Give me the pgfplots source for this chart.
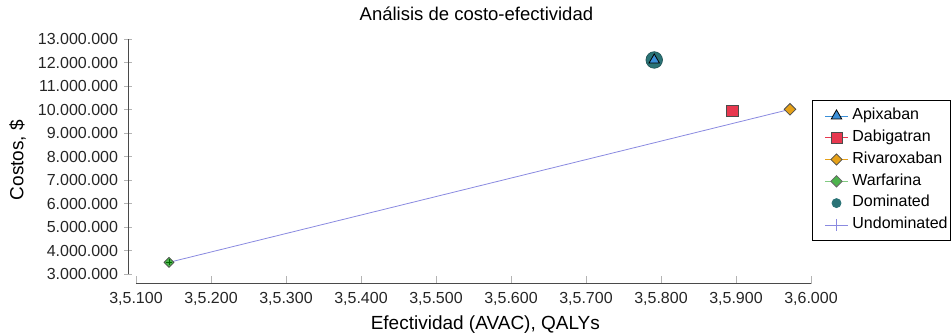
\documentclass[border=0pt]{standalone}
\usepackage{pgfplots}
\pgfplotsset{compat=1.18}
\usepackage{fontspec}
\setmainfont{Liberation Sans}

\definecolor{apixblue}{HTML}{3A8FD8}
\definecolor{dabired}{HTML}{E8384F}
\definecolor{rivaorange}{HTML}{E6A118}
\definecolor{warfgreen}{HTML}{4DB34D}
\definecolor{domteal}{HTML}{2A7376}
\definecolor{undompurple}{HTML}{8A8AE0}
\definecolor{axisgray}{HTML}{4A4A4A}
\definecolor{tickgray}{HTML}{B4B4B4}

\begin{document}
\begin{tikzpicture}
\begin{axis}[
  at={(0,0)}, anchor=south west,
  scale only axis, width=686.25bp, height=244.2bp,
  xmin=3.509, xmax=3.6005, ymin=2610000, ymax=13000000,
  clip=false,
  axis line style={draw=none},
  xtick={3.51,3.52,3.53,3.54,3.55,3.56,3.57,3.58,3.59,3.60},
  xticklabels={{3,5.100},{3,5.200},{3,5.300},{3,5.400},{3,5.500},{3,5.600},{3,5.700},{3,5.800},{3,5.900},{3,6.000}},
  ytick={3000000,4000000,5000000,6000000,7000000,8000000,9000000,10000000,11000000,12000000,13000000},
  yticklabels={3.000.000,4.000.000,5.000.000,6.000.000,7.000.000,8.000.000,9.000.000,10.000.000,11.000.000,12.000.000,13.000.000},
  scaled ticks=false,
  xtick pos=bottom, ytick pos=left,
  xtick align=inside, ytick align=center,
  major tick length=8bp,
  tick style={tickgray, line width=0.8bp},
  ticklabel style={font=\fontsize{16bp}{18bp}\selectfont, text=black!85},
  xticklabel style={yshift=-5bp},
  yticklabel style={xshift=-3bp},
  title={Análisis de costo-efectividad},
  title style={font=\fontsize{18.5bp}{22bp}\selectfont, at={(axis description cs:0.507,1.0545)}, anchor=base},
  xlabel={Efectividad (AVAC), QALYs},
  xlabel style={font=\fontsize{19bp}{22bp}\selectfont, at={(axis description cs:0.520,-0.1885)}, anchor=base},
  ylabel={Costos, \$},
  ylabel style={font=\fontsize{19bp}{22bp}\selectfont, at={(axis description cs:-0.1617,0.5057)}, anchor=center},
  legend cell align=left,
  legend image code/.code={%
    \path (0bp,0bp);
    \draw[mark repeat=2,mark phase=2,#1] plot coordinates {(10.5bp,0bp) (22bp,0bp) (33.5bp,0bp)};},
  legend style={at={(axis description cs:0.9963,0.7514)}, anchor=north west,
    draw=black, line width=0.8bp, font=\fontsize{16bp}{18bp}\selectfont,
    row sep=0bp, column sep=3bp, inner xsep=1.5bp, inner ysep=4.6bp,
    nodes={text height=11.5bp, text depth=4bp, inner xsep=1bp, inner ysep=3.15bp}},
]
% frontier through the non-dominated strategies
\addplot[undompurple, line width=0.8bp, mark=none, forget plot]
  coordinates {(3.5144,3510000) (3.5972,10020000)};
% dominated strategy highlight
\addplot[only marks, mark=*, mark size=8.3bp, mark options={fill=domteal, draw=domteal!70!black, line width=0.6bp}, forget plot]
  coordinates {(3.5791,12120000)};
% Apixaban
\addplot[only marks, mark=triangle*, mark size=6bp, mark options={fill=apixblue, draw=black, line width=0.8bp}, forget plot]
  coordinates {(3.5791,12120000)};
% Dabigatran
\addplot[only marks, mark=square*, mark size=5.8bp, mark options={fill=dabired, draw=black!70, line width=0.8bp}, forget plot]
  coordinates {(3.5895,9960000)};
% Rivaroxaban
\addplot[only marks, mark=square*, mark size=4.1bp, mark options={rotate=45, fill=rivaorange, draw=black!70, line width=0.8bp}, forget plot]
  coordinates {(3.5972,10020000)};
% Warfarina
\addplot[only marks, mark=square*, mark size=3.5bp, mark options={rotate=45, fill=warfgreen, draw=black!70, line width=0.7bp}, forget plot]
  coordinates {(3.5144,3510000)};
\addplot[only marks, mark=+, mark size=3bp, mark options={draw=black!60!green, line width=0.6bp}, forget plot]
  coordinates {(3.5144,3510000)};

\addlegendimage{apixblue, line width=0.8bp, mark=triangle*, mark size=6bp, mark options={fill=apixblue, draw=black}}
\addlegendentry{Apixaban}
\addlegendimage{dabired, line width=0.8bp, mark=square*, mark size=5.5bp, mark options={fill=dabired, draw=black!70}}
\addlegendentry{Dabigatran}
\addlegendimage{rivaorange, line width=0.8bp, mark=square*, mark size=4bp, mark options={rotate=45, fill=rivaorange, draw=black!70}}
\addlegendentry{Rivaroxaban}
\addlegendimage{warfgreen!70, line width=0.8bp, mark=square*, mark size=4bp, mark options={rotate=45, fill=warfgreen, draw=black!60}}
\addlegendentry{Warfarina}
\addlegendimage{only marks, mark=*, mark size=4.5bp, mark options={fill=domteal, draw=domteal}}
\addlegendentry{Dominated}
\addlegendimage{undompurple, line width=0.6bp, mark=+, mark size=6bp}
\addlegendentry{Undominated}

% axis lines, drawn apart from each other
\draw[axisgray, line width=1bp] (axis cs:3.509,3000000) -- (axis cs:3.509,13000000);
\draw[axisgray, line width=1bp] (axis cs:3.51,2610000) -- (axis cs:3.6,2610000);
\end{axis}
\pgfresetboundingbox
\path[use as bounding box] (-128.5bp,-51.5bp) rectangle (822.5bp,283.5bp);
\end{tikzpicture}
\end{document}
